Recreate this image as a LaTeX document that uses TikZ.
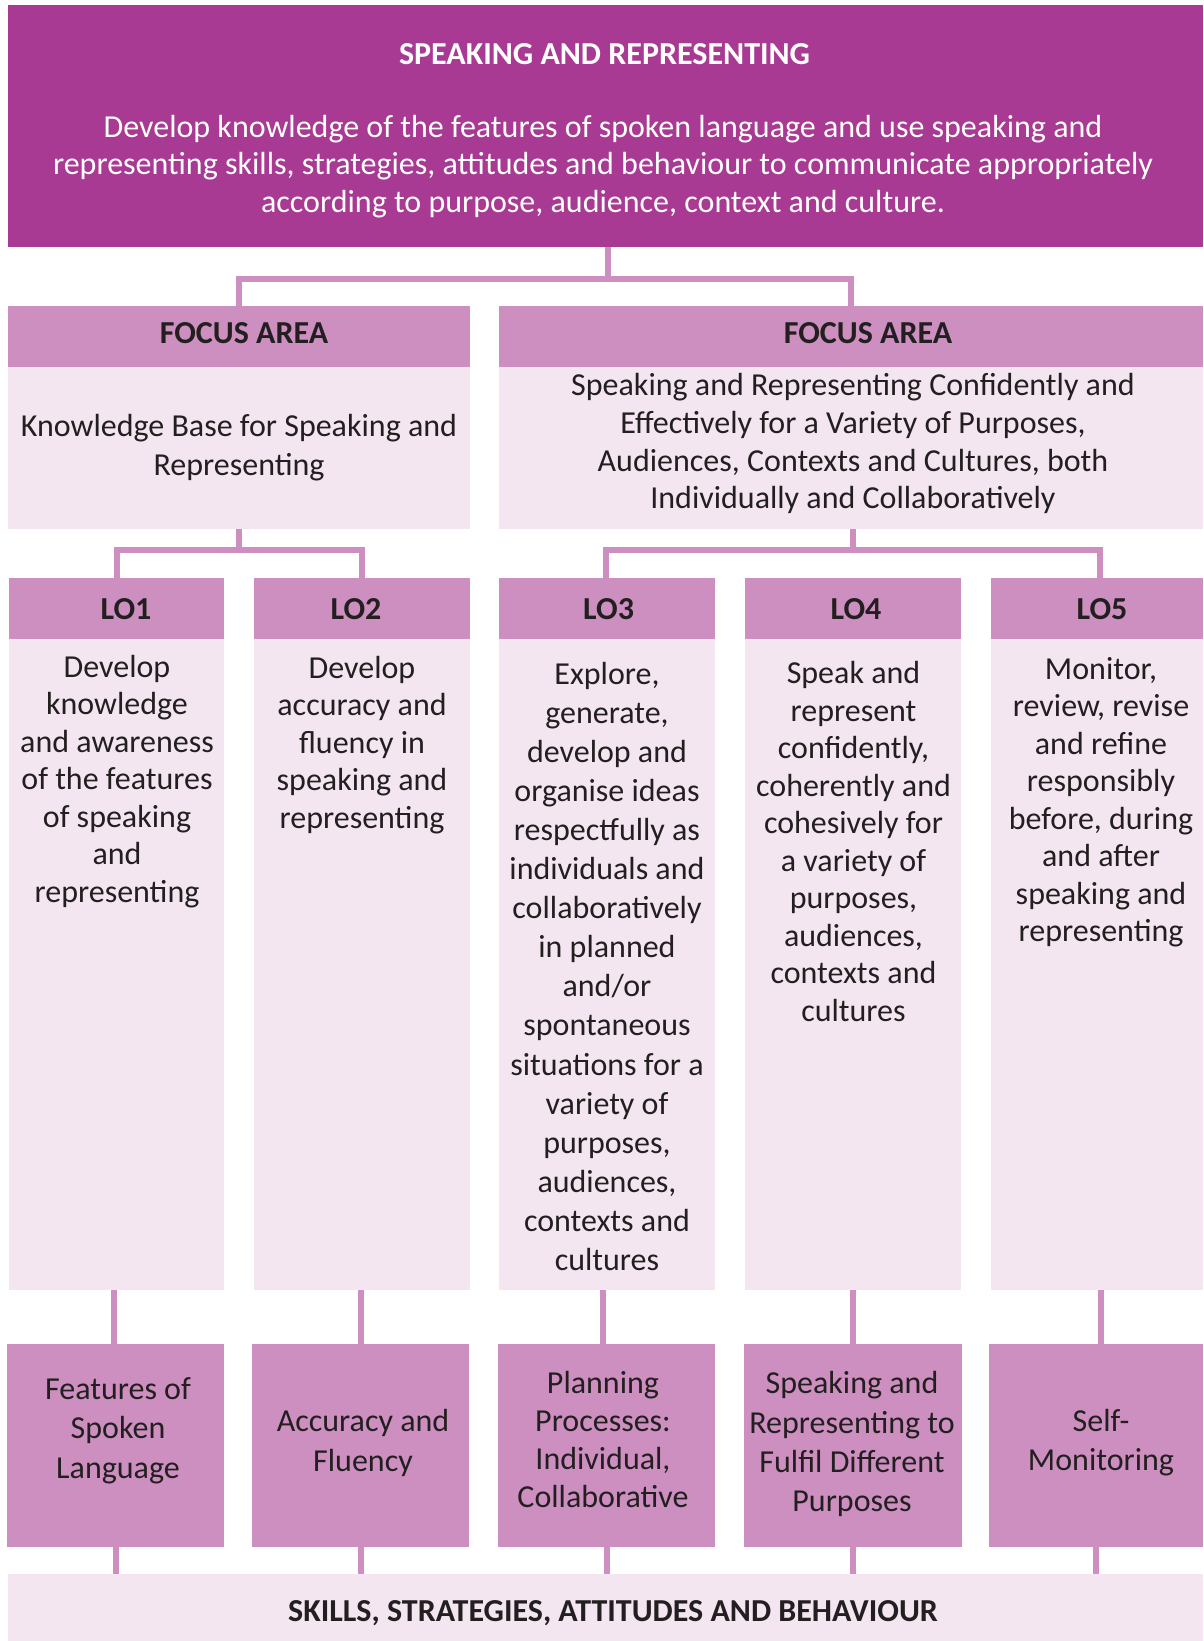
\documentclass[tikz,border=0pt]{standalone}
\usepackage{fontspec}
\setmainfont{Carlito}
\definecolor{topc}{HTML}{A93A94}
\definecolor{headc}{HTML}{CC8FC0}
\definecolor{lightc}{HTML}{F3E6F1}
\definecolor{ink}{HTML}{231F20}
\tikzset{
  box/.style={draw=none, inner sep=0pt, outer sep=0pt},
  conn/.style={draw=headc, line width=6pt},
  txt/.style={inner sep=0pt, align=center, text=ink, yshift=-2pt, font=\fontsize{32}{37.5}\selectfont},
  btxt/.style={inner sep=0pt, align=center, text=ink, yshift=-0.5pt, font=\fontsize{32}{37.5}\selectfont\bfseries},
}
\begin{document}
\begin{tikzpicture}[x=1pt,y=-1pt]
\useasboundingbox (0,0) rectangle (1203,1641);

% --- boxes ---
\node[box, fill=topc, minimum width=1195pt, minimum height=242pt] (top) at (605.5,126) {};
\node[box, fill=headc, minimum width=462pt, minimum height=61pt] (fa1h) at (239,336.5) {};
\node[box, fill=lightc, minimum width=462pt, minimum height=162pt] (fa1b) at (239,448) {};
\node[box, fill=headc, minimum width=704pt, minimum height=61pt] (fa2h) at (851,336.5) {};
\node[box, fill=lightc, minimum width=704pt, minimum height=162pt] (fa2b) at (851,448) {};

\foreach \n/\l/\r in {1/9/224, 2/254/470, 3/499/715, 4/745/961, 5/991/1203}{
  \node[box, fill=headc, minimum width={\r-\l}, minimum height=61pt] (lo\n h) at ({(\l+\r)/2},608.5) {};
  \node[box, fill=lightc, minimum width={\r-\l}, minimum height=651pt] (lo\n b) at ({(\l+\r)/2},964.5) {};
}
\foreach \n/\l/\r in {1/7/224, 2/252/469, 3/498/715, 4/744/962, 5/989/1203}{
  \node[box, fill=headc, minimum width={\r-\l}, minimum height=203pt] (b\n) at ({(\l+\r)/2},1445.5) {};
}
\node[box, fill=lightc, minimum width=1195pt, minimum height=68pt] (band) at (605.5,1608) {};

% --- connectors ---
\coordinate (barA) at (0,278.5);
\coordinate (barB) at (0,550);
\draw[conn] ([xshift=2.5pt]top.south) -- ([xshift=2.5pt]top.south |- barA) -| (fa1h.north);
\draw[conn] ([xshift=2.5pt]top.south |- barA) -| (fa2h.north);
\draw[conn] (fa1b.south) -- (fa1b.south |- barB) -| (lo1h.north);
\draw[conn] (fa1b.south |- barB) -| (lo2h.north);
\draw[conn] ([xshift=2pt]fa2b.south) -- ([xshift=2pt]fa2b.south |- barB) -| ([xshift=-1pt]lo3h.north);
\draw[conn] ([xshift=2pt]fa2b.south |- barB) -| ([xshift=2.5pt]lo5h.north);
\foreach \n/\dx in {1/-2.5, 2/-1, 3/-4, 4/0, 5/4}{
  \draw[conn] ([xshift=\dx pt]lo\n b.south) -- ([xshift=\dx pt]lo\n b.south |- b\n.north);
  \draw[conn] (b\n.south) -- (b\n.south |- band.north);
}

% --- texts ---
\node[btxt, text=white] (ttitle) at (604.5,53.4) {SPEAKING AND REPRESENTING};
\node[txt, text=white, font=\fontsize{32}{37.7}\selectfont] (tbody) at (603,164.4)
  {Develop knowledge of the features of spoken language and use speaking and\\
   representing skills, strategies, attitudes and behaviour to communicate appropriately\\
   according to purpose, audience, context and culture.};

\node[btxt] (fa1t) at (244,333) {FOCUS AREA};
\node[btxt] (fa2t) at (868,333) {FOCUS AREA};
\node[txt, font=\fontsize{32}{38.7}\selectfont] (fa1x) at (239,445.5)
  {Knowledge Base for Speaking and\\ Representing};
\node[txt, font=\fontsize{32}{37.7}\selectfont] (fa2x) at (853,441.8)
  {Speaking and Representing Confidently and\\ Effectively for a Variety of Purposes,\\
   Audiences, Contexts and Cultures, both\\ Individually and Collaboratively};

\node[btxt] (lo1t) at (126,608.3) {LO1};
\node[btxt] (lo2t) at (356,608.3) {LO2};
\node[btxt] (lo3t) at (608.6,608.3) {LO3};
\node[btxt] (lo4t) at (856,608.3) {LO4};
\node[btxt] (lo5t) at (1102,608.3) {LO5};

\node[txt] (lo1x) at (117,779.5)
  {Develop\\ knowledge\\ and awareness\\ of the features\\ of speaking\\ and\\ representing};
\node[txt] (lo2x) at (362,742.9)
  {Develop\\ accuracy and\\ fluency in\\ speaking and\\ representing};
\node[txt, font=\fontsize{32}{39.1}\selectfont] (lo3x) at (607,964.3)
  {Explore,\\ generate,\\ develop and\\ organise ideas\\ respectfully as\\ individuals and\\
   collaboratively\\ in planned\\ and/or\\ spontaneous\\ situations for a\\ variety of\\
   purposes,\\ audiences,\\ contexts and\\ cultures};
\node[txt] (lo4x) at (853.5,839.7)
  {Speak and\\ represent\\ confidently,\\ coherently and\\ cohesively for\\ a variety of\\
   purposes,\\ audiences,\\ contexts and\\ cultures};
\node[txt] (lo5x) at (1101,800.4)
  {Monitor,\\ review, revise\\ and refine\\ responsibly\\ before, during\\ and after\\
   speaking and\\ representing};

\node[txt, font=\fontsize{32}{39.3}\selectfont] (b1x) at (118,1428.6)
  {Features of\\ Spoken\\ Language};
\node[txt, font=\fontsize{32}{39.8}\selectfont] (b2x) at (363,1440.7)
  {Accuracy and\\ Fluency};
\node[txt, font=\fontsize{32}{37.7}\selectfont] (b3x) at (603,1437.5)
  {Planning\\ Processes:\\ Individual,\\ Collaborative};
\node[txt, font=\fontsize{32}{39.4}\selectfont] (b4x) at (852,1442.2)
  {Speaking and\\ Representing to\\ Fulfil Different\\ Purposes};
\node[txt, font=\fontsize{32}{39.8}\selectfont] (b5x) at (1101,1440.7)
  {Self-\\ Monitoring};

\node[btxt, yshift=-1.5pt] (bandx) at (613,1611.3) {SKILLS, STRATEGIES, ATTITUDES AND BEHAVIOUR};
\end{tikzpicture}
\end{document}
